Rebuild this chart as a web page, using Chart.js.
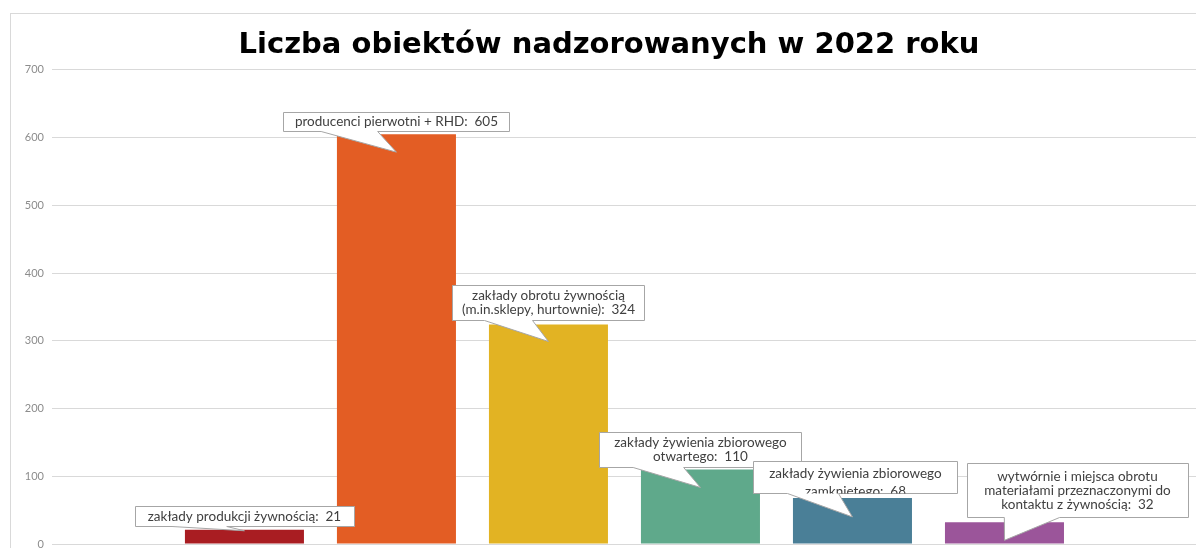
<!DOCTYPE html>
<html>
<head>
<meta charset="utf-8">
<script src="https://cdn.jsdelivr.net/npm/chart.js@4.4.1/dist/chart.umd.min.js"></script>
<style>
  html,body{margin:0;padding:0;background:#fff;overflow:hidden}
  #frame{position:absolute;left:10px;top:13px;width:1400px;height:800px;border:1px solid #d9d9d9}
  #c{position:absolute;left:0;top:0}
</style>
</head>
<body>
<div id="frame"></div>
<canvas id="c" width="1196" height="548"></canvas>
<script>
// dane z wykresu
const categories=[
  ['zakłady produkcji żywnością'],
  ['producenci pierwotni + RHD'],
  ['zakłady obrotu żywnością','(m.in.sklepy, hurtownie)'],
  ['zakłady żywienia zbiorowego','otwartego'],
  ['zakłady żywienia zbiorowego','zamkniętego'],
  ['wytwórnie i miejsca obrotu','materiałami przeznaczonymi do','kontaktu z żywnością']
];
const values=[21,605,324,110,68,32];
const barColors=['#a91d22','#e35d24','#e2b323','#5fa98b','#4a7f97','#9b559a'];
const yMax=700, yStep=100;

// wygląd dymków (względem wierzchołka słupka)
const callouts=[
  {dx:0, top:-24,w:219,h:20,tip:1},
  {dx:0, top:-22,w:226,h:19,tip:18},
  {dx:0, top:-40,w:192,h:35,tip:17},
  {dx:0, top:-37,w:202,h:35,tip:18},
  {dx:3, top:-37,w:204,h:32,tip:19,ty:12,lh:18},
  {dx:73,top:-59,w:221,h:54,tip:18}
];
const lblFont='13.5px Lato', lblColor='#404040', lineH=14;

const calloutPlugin={
  id:'callouts',
  afterDatasetsDraw(chart){
    const ctx=chart.ctx;
    chart.getDatasetMeta(0).data.forEach((bar,i)=>{
      const s=callouts[i];
      const cx=bar.x+s.dx, left=Math.round(cx-s.w/2)+.5, top=Math.round(bar.y+s.top)+.5;
      const right=left+s.w, bottom=top+s.h;
      const tx=bar.x, ty=bar.y+s.tip;
      const b1=tx>cx?left+s.w*7/12:left+s.w*2/12, b2=tx>cx?left+s.w*10/12:left+s.w*5/12;
      ctx.save();
      ctx.beginPath();
      ctx.moveTo(left,top);ctx.lineTo(right,top);ctx.lineTo(right,bottom);
      ctx.lineTo(b2,bottom);ctx.lineTo(tx,ty);ctx.lineTo(b1,bottom);
      ctx.lineTo(left,bottom);ctx.closePath();
      ctx.fillStyle='#fff';ctx.fill();
      ctx.strokeStyle='#a6a6a6';ctx.lineWidth=1;ctx.stroke();
      ctx.beginPath();ctx.rect(left,top,s.w,s.h);ctx.clip();
      const lines=categories[i].slice();
      lines[lines.length-1]+=':  '+values[i];
      ctx.font=lblFont;ctx.fillStyle=lblColor;ctx.textAlign='center';ctx.textBaseline='middle';
      const lh=s.lh||lineH;
      const y0=s.ty!==undefined?top+s.ty:top+s.h/2-(lines.length-1)*lh/2;
      lines.forEach((t,k)=>ctx.fillText(t,cx,y0+k*lh));
      ctx.restore();
    });
  }
};

new Chart(document.getElementById('c'),{
  type:'bar',
  data:{datasets:[{
    data:values.map((v,i)=>({x:i,y:v})),
    backgroundColor:barColors,
    categoryPercentage:1,barPercentage:.783
  }]},
  options:{
    responsive:false,animation:false,
    layout:{padding:{left:22,right:0,top:0,bottom:4}},
    plugins:{
      legend:{display:false},tooltip:{enabled:false},
      title:{display:true,text:'Liczba obiektów nadzorowanych w 2022 roku',
        color:'#000',font:{family:'DejaVu Sans',size:29,weight:'bold'},padding:{top:28,bottom:7}}
    },
    scales:{
      x:{type:'linear',min:-1.266,max:6.26,offset:false,display:false},
      y:{min:0,max:yMax,
        afterFit(s){s.width=30;s.paddingBottom=0;s.paddingTop=0},
        border:{display:false},
        grid:{color:'#d9d9d9',drawTicks:false},
        ticks:{stepSize:yStep,padding:8,color:'#8c8c8c',font:{family:'Lato',size:11}}
      }
    }
  },
  plugins:[calloutPlugin]
});
</script>
</body>
</html>
